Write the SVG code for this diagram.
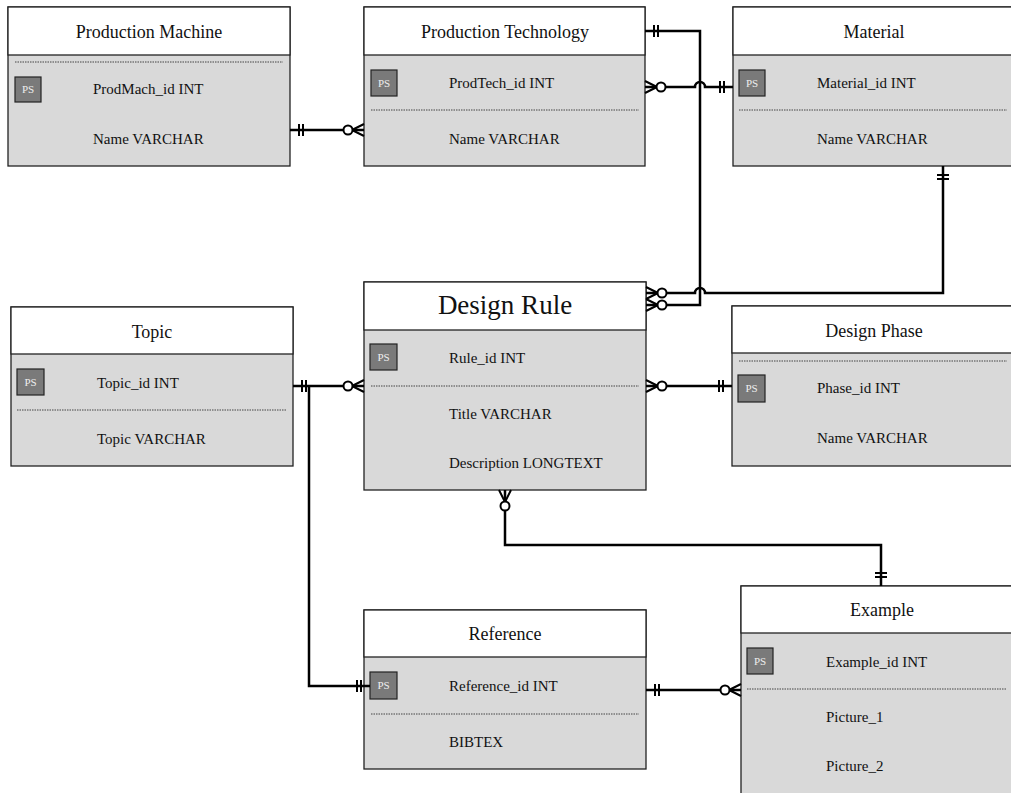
<svg xmlns="http://www.w3.org/2000/svg" xmlns:xlink="http://www.w3.org/1999/xlink" width="1011" height="793" viewBox="0 0 1011 793">
<style>
text{font-family:"Liberation Serif","Times New Roman",serif;fill:#111}
.hdr{fill:#fff;stroke:#222;stroke-width:1.3}
.body{fill:#d9d9d9;stroke:#222;stroke-width:1.3}
.title{font-size:18px;text-anchor:middle}
.big{font-size:27px;text-anchor:middle}
.attr{font-size:15px}
.ps{fill:#7a7a7a;stroke:#222;stroke-width:1.2}
.pst{font-size:11px;fill:#eee;text-anchor:middle}
.dot{stroke:#444;stroke-width:1;stroke-dasharray:1.5 1}
.conn{fill:none;stroke:#000;stroke-width:2.5}
.sym{fill:none;stroke:#000;stroke-width:2}
.circ{fill:#fff;stroke:#000;stroke-width:2}
</style>
<defs>
<g id="many">
<path class="sym" d="M-12 0 L0 -6 M-12 0 L0 0 M-12 0 L0 6"/>
<circle class="circ" cx="-16" cy="0" r="4.5"/>
</g>
<g id="one">
<path class="sym" d="M-9 -6 V6 M-13 -6 V6"/>
</g>
</defs>

<g id="production-machine">
<rect class="body" x="8" y="7" width="282" height="159"/>
<rect class="hdr" x="8" y="7" width="282" height="48"/>
<text class="title" x="149" y="38">Production Machine</text>
<line class="dot" x1="15" y1="62" x2="283" y2="62"/>
<rect class="ps" x="15" y="77" width="26" height="25"/>
<text class="pst" x="28" y="93">PS</text>
<text class="attr" x="93" y="94">ProdMach_id INT</text>
<text class="attr" x="93" y="144">Name VARCHAR</text>
</g>

<g id="production-technology">
<rect class="body" x="364" y="7" width="281" height="159"/>
<rect class="hdr" x="364" y="7" width="281" height="48"/>
<text class="title" x="505" y="38">Production Technology</text>
<rect class="ps" x="371" y="70" width="26" height="26"/>
<text class="pst" x="384" y="87">PS</text>
<text class="attr" x="449" y="88">ProdTech_id INT</text>
<line class="dot" x1="371" y1="110" x2="639" y2="110"/>
<text class="attr" x="449" y="144">Name VARCHAR</text>
</g>

<g id="material">
<rect class="body" x="733" y="7" width="282" height="159"/>
<rect class="hdr" x="733" y="7" width="282" height="48"/>
<text class="title" x="874" y="38">Material</text>
<rect class="ps" x="739" y="70" width="26" height="26"/>
<text class="pst" x="752" y="87">PS</text>
<text class="attr" x="817" y="88">Material_id INT</text>
<line class="dot" x1="739" y1="110" x2="1007" y2="110"/>
<text class="attr" x="817" y="144">Name VARCHAR</text>
</g>

<g id="design-rule">
<rect class="body" x="364" y="282" width="282" height="208"/>
<rect class="hdr" x="364" y="282" width="282" height="48"/>
<text class="big" x="505" y="314">Design Rule</text>
<rect class="ps" x="370" y="344" width="27" height="26"/>
<text class="pst" x="383.5" y="361">PS</text>
<text class="attr" x="449" y="363">Rule_id INT</text>
<line class="dot" x1="371" y1="386" x2="639" y2="386"/>
<text class="attr" x="449" y="419">Title VARCHAR</text>
<text class="attr" x="449" y="468">Description LONGTEXT</text>
</g>

<g id="topic">
<rect class="body" x="11" y="307" width="282" height="159"/>
<rect class="hdr" x="11" y="307" width="282" height="47"/>
<text class="title" x="152" y="338">Topic</text>
<rect class="ps" x="17" y="369" width="27" height="26"/>
<text class="pst" x="30.5" y="386">PS</text>
<text class="attr" x="97" y="388">Topic_id INT</text>
<line class="dot" x1="17" y1="410" x2="286" y2="410"/>
<text class="attr" x="97" y="444">Topic VARCHAR</text>
</g>

<g id="design-phase">
<rect class="body" x="732" y="306" width="282" height="160"/>
<rect class="hdr" x="732" y="306" width="282" height="47"/>
<text class="title" x="874" y="337">Design Phase</text>
<line class="dot" x1="739" y1="361" x2="1007" y2="361"/>
<rect class="ps" x="738" y="375" width="27" height="27"/>
<text class="pst" x="751.5" y="392">PS</text>
<text class="attr" x="817" y="393">Phase_id INT</text>
<text class="attr" x="817" y="443">Name VARCHAR</text>
</g>

<g id="reference">
<rect class="body" x="364" y="610" width="282" height="159"/>
<rect class="hdr" x="364" y="610" width="282" height="47"/>
<text class="title" x="505" y="640">Reference</text>
<rect class="ps" x="370" y="672" width="27" height="27"/>
<text class="pst" x="383.5" y="689">PS</text>
<text class="attr" x="449" y="691">Reference_id INT</text>
<line class="dot" x1="371" y1="714" x2="639" y2="714"/>
<text class="attr" x="449" y="747">BIBTEX</text>
</g>

<g id="example">
<rect class="body" x="741" y="586" width="282" height="220"/>
<rect class="hdr" x="741" y="586" width="282" height="47"/>
<text class="title" x="882" y="616">Example</text>
<rect class="ps" x="747" y="648" width="26" height="26"/>
<text class="pst" x="760" y="665">PS</text>
<text class="attr" x="826" y="667">Example_id INT</text>
<line class="dot" x1="747" y1="689" x2="1007" y2="689"/>
<text class="attr" x="826" y="722">Picture_1</text>
<text class="attr" x="826" y="771">Picture_2</text>
</g>

<g id="connectors">
<path class="conn" d="M290 130 H364"/>
<use xlink:href="#one" transform="translate(290,130) rotate(180)"/>
<use xlink:href="#many" transform="translate(364,130)"/>

<path class="conn" d="M645 87 H695 A5 5 0 0 1 705 87 H733"/>
<use xlink:href="#many" transform="translate(645,87) rotate(180)"/>
<use xlink:href="#one" transform="translate(733,87)"/>

<path class="conn" d="M645 31 H700 V305 H646"/>
<use xlink:href="#one" transform="translate(645,31) rotate(180)"/>
<use xlink:href="#many" transform="translate(646,305) rotate(180)"/>

<path class="conn" d="M943 166 V293 H705 A5 5 0 0 0 695 293 H646"/>
<use xlink:href="#one" transform="translate(943,166) rotate(-90)"/>
<use xlink:href="#many" transform="translate(646,293) rotate(180)"/>

<path class="conn" d="M293 386 H364"/>
<use xlink:href="#one" transform="translate(293,386) rotate(180)"/>
<use xlink:href="#many" transform="translate(364,386)"/>

<path class="conn" d="M309 386 V686 H370"/>
<use xlink:href="#one" transform="translate(370,686)"/>

<path class="conn" d="M646 386 H732"/>
<use xlink:href="#many" transform="translate(646,386) rotate(180)"/>
<use xlink:href="#one" transform="translate(732,386)"/>

<path class="conn" d="M505 490 V545 H881 V586"/>
<use xlink:href="#many" transform="translate(505,490) rotate(-90)"/>
<use xlink:href="#one" transform="translate(881,586) rotate(90)"/>

<path class="conn" d="M646 690 H741"/>
<use xlink:href="#one" transform="translate(646,690) rotate(180)"/>
<use xlink:href="#many" transform="translate(741,690)"/>
</g>
</svg>
